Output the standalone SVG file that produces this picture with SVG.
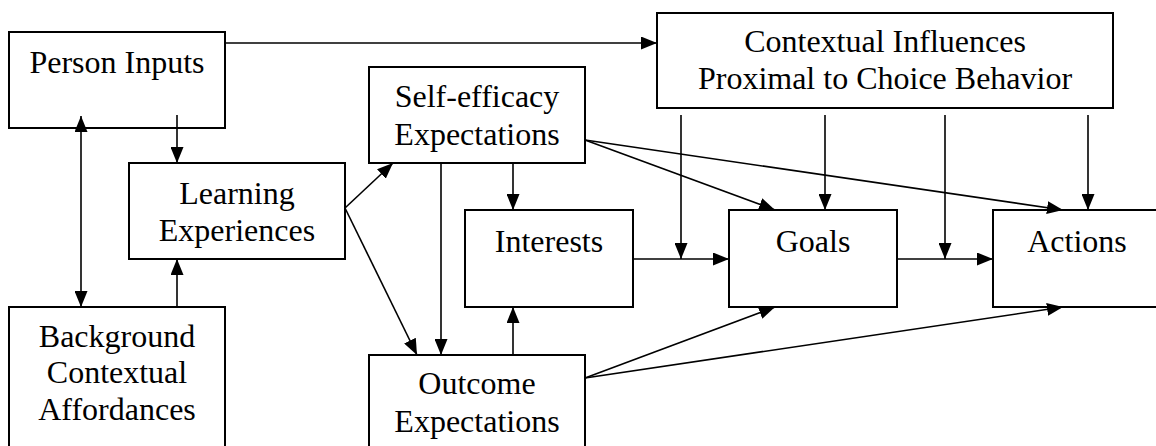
<svg xmlns="http://www.w3.org/2000/svg" width="1156" height="446" viewBox="0 0 1156 446">
<style>
.box{fill:#fff;stroke:#000;stroke-width:2}
.lbl{font-family:"Liberation Serif","Times New Roman",serif;font-size:32px;fill:#000;text-anchor:middle}
.ln{fill:none;stroke:#000;stroke-width:1.6}
</style>
<defs>
<marker id="ah" markerUnits="userSpaceOnUse" markerWidth="16" markerHeight="13" refX="16" refY="6.5" orient="auto">
<path d="M0,0 L16,6.5 L0,13 z" fill="#000"/>
</marker>
<marker id="as" markerUnits="userSpaceOnUse" markerWidth="16" markerHeight="13" refX="16" refY="6.5" orient="auto-start-reverse">
<path d="M0,0 L16,6.5 L0,13 z" fill="#000"/>
</marker>
</defs>
<g id="person"><rect class="box" x="9" y="32" width="216" height="96"/><text class="lbl" x="117" y="73">Person Inputs</text></g>
<g id="learning"><rect class="box" x="129" y="163" width="216" height="96"/><text class="lbl" x="237" y="204">Learning</text><text class="lbl" x="237" y="241">Experiences</text></g>
<g id="background"><rect class="box" x="9" y="307" width="216" height="150"/><text class="lbl" x="117" y="347">Background</text><text class="lbl" x="117" y="383">Contextual</text><text class="lbl" x="117" y="420">Affordances</text></g>
<g id="selfefficacy"><rect class="box" x="369" y="67" width="216" height="96"/><text class="lbl" x="477" y="107">Self-efficacy</text><text class="lbl" x="477" y="145">Expectations</text></g>
<g id="outcome"><rect class="box" x="369" y="355" width="216" height="100"/><text class="lbl" x="477" y="394">Outcome</text><text class="lbl" x="477" y="432">Expectations</text></g>
<g id="interests"><rect class="box" x="465" y="210" width="168" height="97"/><text class="lbl" x="549" y="252">Interests</text></g>
<g id="goals"><rect class="box" x="729" y="210" width="168" height="97"/><text class="lbl" x="813" y="252">Goals</text></g>
<g id="actions"><rect class="box" x="993" y="210" width="168" height="97"/><text class="lbl" x="1077" y="252">Actions</text></g>
<g id="contextual"><rect class="box" x="657" y="13" width="456" height="95"/><text class="lbl" x="885" y="52">Contextual Influences</text><text class="lbl" x="885" y="89">Proximal to Choice Behavior</text></g>
<g id="connectors">
<line class="ln" x1="225" y1="43" x2="657" y2="43" marker-end="url(#ah)"/>
<line class="ln" x1="81" y1="116" x2="81" y2="307" marker-start="url(#as)" marker-end="url(#ah)"/>
<line class="ln" x1="177" y1="115" x2="177" y2="163" marker-end="url(#ah)"/>
<line class="ln" x1="177" y1="307" x2="177" y2="259" marker-end="url(#ah)"/>
<line class="ln" x1="345" y1="208" x2="393" y2="163" marker-end="url(#ah)"/>
<line class="ln" x1="345" y1="208" x2="417" y2="355" marker-end="url(#ah)"/>
<line class="ln" x1="441" y1="163" x2="441" y2="355" marker-end="url(#ah)"/>
<line class="ln" x1="513" y1="163" x2="513" y2="210" marker-end="url(#ah)"/>
<line class="ln" x1="513" y1="355" x2="513" y2="307" marker-end="url(#ah)"/>
<line class="ln" x1="633" y1="259" x2="729" y2="259" marker-end="url(#ah)"/>
<line class="ln" x1="897" y1="259" x2="993" y2="259" marker-end="url(#ah)"/>
<line class="ln" x1="681" y1="115" x2="681" y2="259" marker-end="url(#ah)"/>
<line class="ln" x1="825" y1="115" x2="825" y2="210" marker-end="url(#ah)"/>
<line class="ln" x1="945" y1="115" x2="945" y2="259" marker-end="url(#ah)"/>
<line class="ln" x1="1088" y1="115" x2="1088" y2="210" marker-end="url(#ah)"/>
<line class="ln" x1="585" y1="140" x2="775" y2="210" marker-end="url(#ah)"/>
<line class="ln" x1="585" y1="140" x2="1063" y2="210" marker-end="url(#ah)"/>
<line class="ln" x1="585" y1="378" x2="775" y2="307" marker-end="url(#ah)"/>
<line class="ln" x1="585" y1="378" x2="1063" y2="307" marker-end="url(#ah)"/>
</g>
</svg>
